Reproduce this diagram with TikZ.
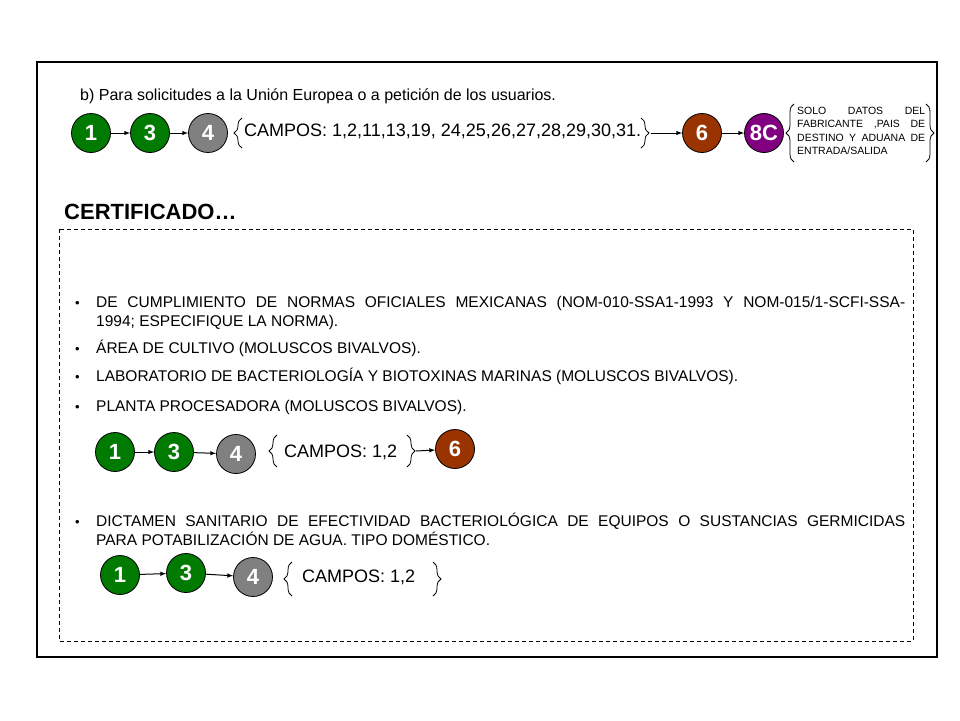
\documentclass[tikz,border=0pt]{standalone}
\usepackage{fontspec}
\setmainfont{Liberation Sans}
\usepackage{tikz}
\usetikzlibrary{arrows,decorations.pathreplacing}
\definecolor{verde}{RGB}{0,122,0}
\definecolor{gris}{RGB}{128,128,128}
\definecolor{cafe}{RGB}{153,51,0}
\definecolor{morado}{RGB}{128,0,128}
\newcommand{\llaveizq}[4][8] % [amplitud]{x}{y1}{y2} llave abierta
{
	\draw [line width=0.8pt, decorate, decoration={brace, amplitude=#1}] (#2,#4) -- (#2,#3);
}
\newcommand{\llaveder}[4][8] % [amplitud]{x}{y1}{y2} llave cerrada
{
	\draw [line width=0.8pt, decorate, decoration={brace, amplitude=#1}] (#2,#3) -- (#2,#4);
}
\newcommand{\vineta}[3] % {nombre}{y}{texto}
{
	\node [bala] (#1b) at (75,#2) {•};
	\node [item] (#1) at (96,#2) {#3};
}

\begin{document}
\begin{tikzpicture}[x=1pt, y=-1pt,
	paso/.style={circle, draw=black, line width=0.8pt, minimum size=39pt, inner sep=0pt, text=white, font=\fontsize{22}{22}\selectfont\bfseries},
	flecha/.style={-latex, line width=1pt},
	bala/.style={anchor=base west, inner sep=0pt, font=\fontsize{13}{18.5}\selectfont},
	item/.style={anchor=base west, inner sep=0pt, text width=809pt, align=justify, font=\fontsize{15.5}{18.5}\selectfont},
	campos/.style={anchor=west, inner sep=0pt, font=\fontsize{18}{18}\selectfont}]
		
		\useasboundingbox (0,0) rectangle (960,720);
		
		\draw [line width=2.5pt] (37,62) rectangle (937,657);
		\draw [thin, dash pattern=on 4pt off 3pt] (59,229) rectangle (913,641);
		
		% fila b)
		\node [anchor=base west, inner sep=0pt, font=\fontsize{16}{16}\selectfont] (titb) at (80,100) {b) Para solicitudes a la Unión Europea o a petición de los usuarios.};
		
		\node [paso, fill=verde] (u1) at (91,133) {1};
		\node [paso, fill=verde] (u3) at (150,133) {3};
		\node [paso, fill=gris] (u4) at (208,133) {4};
		\node [paso, fill=cafe] (u6) at (702,133) {6};
		\node [paso, fill=morado] (u8) at (764,133) {8C};
		\draw [flecha] (u1) -- (u3);
		\draw [flecha] (u3) -- (u4);
		
		\llaveizq{242}{118}{148}
		\node [campos] (ucampos) at (244,131) {CAMPOS: 1,2,11,13,19, 24,25,26,27,28,29,30,31.};
		\llaveder{641}{118}{148}
		\coordinate (uk) at (651,133);
		\draw [flecha] (uk) -- (u6);
		\draw [flecha] (u6) -- (u8);
		
		\llaveizq{794}{104}{162}
		\node [anchor=base west, inner sep=0pt, text width=128pt, align=justify, font=\fontsize{10.5}{13.5}\selectfont] (unota) at (797,114)
			{SOLO DATOS DEL\linebreak FABRICANTE ,PAIS DE\linebreak DESTINO Y ADUANA DE\linebreak ENTRADA/SALIDA};
		\llaveder{926}{104}{162}
		
		% certificado
		\node [anchor=west, inner sep=0pt, font=\fontsize{22}{22}\selectfont\bfseries] (cert) at (64,212) {CERTIFICADO…};
		
		\vineta{t1}{307.5}{DE CUMPLIMIENTO DE NORMAS OFICIALES MEXICANAS (NOM-010-SSA1-1993 Y NOM-015/1-SCFI-SSA-\linebreak 1994;  ESPECIFIQUE LA NORMA).}
		\vineta{t2}{353.5}{ÁREA DE CULTIVO (MOLUSCOS BIVALVOS).}
		\vineta{t3}{381.5}{LABORATORIO DE BACTERIOLOGÍA Y BIOTOXINAS MARINAS (MOLUSCOS BIVALVOS).}
		\vineta{t4}{411.5}{PLANTA PROCESADORA (MOLUSCOS BIVALVOS).}
		
		\node [paso, fill=verde] (c1) at (115,452) {1};
		\node [paso, fill=verde] (c3) at (174,452) {3};
		\node [paso, fill=gris] (c4) at (236,454) {4};
		\node [paso, fill=cafe] (c6) at (455,449) {6};
		\draw [flecha] (c1) -- (c3);
		\draw [flecha] (c3) -- (c4);
		\llaveizq{277}{435}{467}
		\node [campos] (ccampos) at (284,452) {CAMPOS: 1,2};
		\llaveder{407}{435}{467}
		\coordinate (ck) at (416,451);
		\draw [flecha] (ck) -- (c6);
		
		\vineta{t5}{526.5}{DICTAMEN SANITARIO DE EFECTIVIDAD BACTERIOLÓGICA DE EQUIPOS O SUSTANCIAS GERMICIDAS\linebreak PARA POTABILIZACIÓN DE AGUA. TIPO DOMÉSTICO.}
		
		\node [paso, fill=verde] (d1) at (120,575) {1};
		\node [paso, fill=verde] (d3) at (186,573) {3};
		\node [paso, fill=gris] (d4) at (253,577) {4};
		\draw [flecha] (d1) -- (d3);
		\draw [flecha] (d3) -- (d4);
		\llaveizq{292}{562}{596}
		\node [campos] (dcampos) at (302,577) {CAMPOS: 1,2};
		\llaveder{433}{562}{596}
		
\end{tikzpicture}
\end{document}
